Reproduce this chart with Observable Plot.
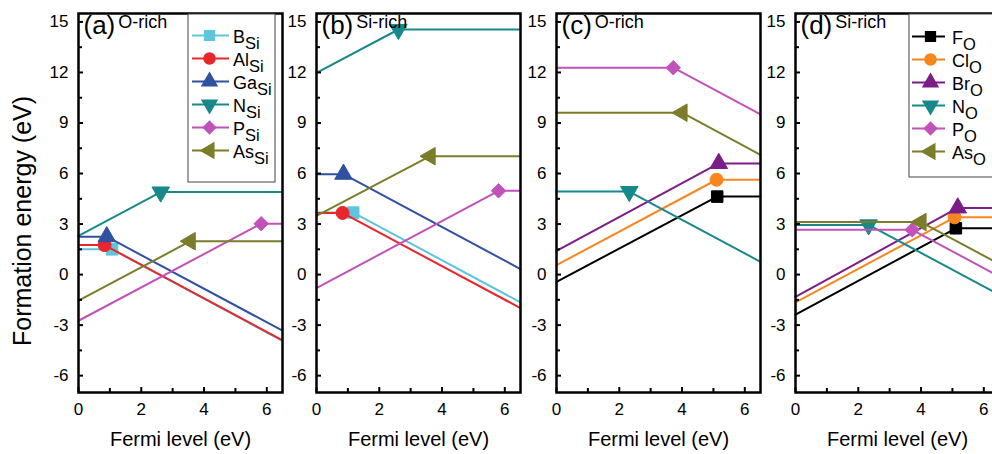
<!DOCTYPE html>
<html><head><meta charset="utf-8">
<script src="https://cdn.jsdelivr.net/npm/d3@7"></script>
<script src="https://cdn.jsdelivr.net/npm/@observablehq/plot@0.6"></script>
<style>
html,body{margin:0;padding:0;background:#fff;overflow:hidden;}
#chart{position:relative;width:992px;height:454px;overflow:hidden;font-family:"Liberation Sans",Arial,sans-serif;}
#chart > svg{position:absolute;}
</style></head><body><div id="chart"></div>
<script>
// ---------- data ----------
const fermiMax = 6.5;
const yDomain = [-7, 15.5];
const xMajorTicks = [0, 2, 4, 6];
const xMinorTicks = [1, 3, 5];
const yMajorTicks = [-6, -3, 0, 3, 6, 9, 12, 15];
const yMinorTicks = [-4.5, -1.5, 1.5, 4.5, 7.5, 10.5, 13.5];
const panelTitles = ["(a)^O-rich", "(b)^Si-rich", "(c)^O-rich", "(d)^Si-rich"];
const xTitle = "Fermi level (eV)";
const yTitle = "Formation energy (eV)";

const dopantsSi = ["B_Si", "Al_Si", "Ga_Si", "N_Si", "P_Si", "As_Si"];
const dopantsO = ["F_O", "Cl_O", "Br_O", "N_O", "P_O", "As_O"];
const colorsSi = ["#5ec6dc", "#e8262b", "#3050a0", "#17898a", "#c152b8", "#7b7d2b"];
const colorsO = ["#000000", "#f7861f", "#7a1d86", "#17898a", "#c152b8", "#7b7d2b"];
const symbolsSi = ["square", "circle", "triangle", "triangleDown", "diamond", "triangleLeft"];
const symbolsO = ["square", "circle", "triangle", "triangleDown", "diamond", "triangleLeft"];

// each series: value at E_F = 0, transition point (x, y), value at E_F = fermiMax
// (a) O-rich, Si-site dopants
const startA = [1.50, 1.75, 2.25, 2.30, -2.74, -1.55];
const kinkXA = [1.07, 0.83, 0.90, 2.62, 5.82, 3.56];
const kinkYA = [1.50, 1.75, 2.25, 4.90, 3.02, 1.98];
const endA   = [-3.93, -3.90, -3.33, 4.90, 3.02, 1.98];
// (b) Si-rich, Si-site dopants
const startB = [3.68, 3.66, 5.96, 11.98, -0.80, 3.49];
const kinkXB = [1.17, 0.83, 0.86, 2.61, 5.80, 3.62];
const kinkYB = [3.68, 3.66, 5.96, 14.55, 4.97, 7.03];
const endB   = [-1.65, -1.99, 0.33, 14.55, 4.97, 7.03];
// (c) O-rich, O-site dopants
const startC = [-0.43, 0.56, 1.41, 4.93, 12.28, 9.61];
const kinkXC = [5.12, 5.10, 5.17, 2.32, 3.72, 4.00];
const kinkYC = [4.63, 5.63, 6.60, 4.93, 12.28, 9.61];
const endC   = [4.63, 5.63, 6.60, 0.76, 9.51, 7.10];
// (d) Si-rich, O-site dopants
const startD = [-2.38, -1.65, -1.32, 2.95, 2.66, 3.12];
const kinkXD = [5.11, 5.07, 5.17, 2.33, 3.72, 4.00];
const kinkYD = [2.75, 3.40, 3.96, 2.95, 2.66, 3.12];
const endD   = [2.75, 3.40, 3.96, -1.20, -0.12, 0.62];

// ---------- symbols ----------
const sqrt3 = Math.sqrt(3);
const customSymbols = {
  triangleDown: {draw(ctx, size) {
    const y = -Math.sqrt(size / (sqrt3 * 3));
    ctx.moveTo(0, -y * 2); ctx.lineTo(-sqrt3 * y, y); ctx.lineTo(sqrt3 * y, y); ctx.closePath();
  }},
  triangleLeft: {draw(ctx, size) {
    const y = -Math.sqrt(size / (sqrt3 * 3));
    ctx.moveTo(y * 2, 0); ctx.lineTo(-y, -sqrt3 * y); ctx.lineTo(-y, sqrt3 * y); ctx.closePath();
  }},
  diamond: "diamond2"
};
const sym = s => customSymbols[s] || s;

const FONT = "'Liberation Sans', Arial, sans-serif";
const chart = document.getElementById("chart");

// ---------- layout ----------
const frameW = 204, mTop = 13, mBottom = 62, H = 454;
const panels = [
  {names: dopantsSi, colors: colorsSi, syms: symbolsSi, s: startA, kx: kinkXA, ky: kinkYA, e: endA, left: 0, mLeft: 78},
  {names: dopantsSi, colors: colorsSi, syms: symbolsSi, s: startB, kx: kinkXB, ky: kinkYB, e: endB, left: 276, mLeft: 40},
  {names: dopantsO, colors: colorsO, syms: symbolsO, s: startC, kx: kinkXC, ky: kinkYC, e: endC, left: 516, mLeft: 40},
  {names: dopantsO, colors: colorsO, syms: symbolsO, s: startD, kx: kinkXD, ky: kinkYD, e: endD, left: 755, mLeft: 40}
];

function richText(svg, subSize) {
  d3.select(svg).selectAll("text").each(function () {
    const t = this.textContent;
    const sel = d3.select(this);
    if (t.includes("^")) {
      const [base, sup] = t.split("^");
      sel.text(null);
      sel.append("tspan").text(base);
      sel.append("tspan").attr("font-size", 18).attr("dx", 3).attr("dy", -6.5).text(sup);
    } else if (t.includes("_")) {
      const [base, sub] = t.split("_");
      sel.text(null);
      sel.append("tspan").text(base);
      sel.append("tspan").attr("font-size", subSize).attr("dy", 6).text(sub);
    }
  });
}

panels.forEach((p, i) => {
  const marks = [];
  p.names.forEach((n, j) => {
    const pts = [
      {x: 0, y: p.s[j]},
      {x: p.kx[j], y: p.ky[j]},
      {x: fermiMax, y: p.e[j]}
    ];
    marks.push(Plot.line(pts, {x: "x", y: "y", stroke: p.colors[j], strokeWidth: 2}));
    marks.push(Plot.dot([pts[1]], {x: "x", y: "y", symbol: sym(p.syms[j]), r: 6.5, fill: p.colors[j], stroke: p.colors[j], strokeWidth: 1}));
  });
  marks.push(
    Plot.axisX({ticks: xMajorTicks, tickSize: 5, dy: -5, fill: "none", strokeWidth: 2, label: null}),
    Plot.axisX({ticks: xMinorTicks, tickSize: 4, dy: -4, fill: "none", strokeWidth: 2, label: null}),
    Plot.axisX({ticks: xMajorTicks, tickSize: 0, tickPadding: 10, tickFormat: d => String(d), fontSize: 17, label: null}),
    Plot.axisY({ticks: yMajorTicks, tickSize: 5, dx: 5, fill: "none", strokeWidth: 2, label: null}),
    Plot.axisY({ticks: yMinorTicks, tickSize: 4, dx: 4, fill: "none", strokeWidth: 2, label: null}),
    Plot.axisY({ticks: yMajorTicks, tickSize: 0, tickPadding: 10, tickFormat: d => String(d), fontSize: 17, label: null}),
    Plot.frame({stroke: "black", strokeWidth: 2.5}),
    Plot.text([xTitle], {frameAnchor: "bottom", text: d => d, dy: 39, lineAnchor: "top", fontSize: 20}),
    Plot.text([panelTitles[i]], {frameAnchor: "top-left", text: d => d, dx: 5, dy: 2.5, lineAnchor: "top", textAnchor: "start", fontSize: 26})
  );
  if (i === 0) {
    marks.push(Plot.text([yTitle], {frameAnchor: "left", text: d => d, dx: -56, dy: 18, rotate: -90, textAnchor: "middle", lineAnchor: "middle", fontSize: 25}));
  }
  const svg = Plot.plot({
    width: p.mLeft + frameW + 6,
    height: H,
    marginLeft: p.mLeft, marginRight: 6, marginTop: mTop, marginBottom: mBottom,
    x: {domain: [0, fermiMax]},
    y: {domain: yDomain},
    style: {fontFamily: FONT, color: "black", background: "transparent", overflow: "visible"},
    marks
  });
  richText(svg, 15);
  svg.style.left = p.left + "px";
  svg.style.top = "0px";
  chart.appendChild(svg);
});

// ---------- legends ----------
function legend(names, colors, syms, left, top, width, height, yRange, lineX, dotX, textX) {
  const marks = [Plot.frame({fill: "white", stroke: "#444", strokeWidth: 1, inset: 0.5})];
  names.forEach((n, j) => {
    marks.push(Plot.ruleY([n], {y: d => d, x1: lineX[0], x2: lineX[1], stroke: colors[j], strokeWidth: 2}));
    marks.push(Plot.dot([n], {y: d => d, x: dotX, symbol: sym(syms[j]), r: 5.5, fill: colors[j], stroke: colors[j]}));
  });
  marks.push(Plot.text(names, {y: d => d, x: textX, text: d => d, textAnchor: "start", dy: 2, fontSize: 18}));
  const svg = Plot.plot({
    width, height, margin: 0,
    x: {domain: [0, width], range: [0, width], axis: null},
    y: {type: "point", domain: names, range: yRange, axis: null},
    style: {fontFamily: FONT, color: "black", background: "transparent", overflow: "visible"},
    marks
  });
  richText(svg, 16.5);
  svg.style.left = left + "px";
  svg.style.top = top + "px";
  chart.appendChild(svg);
}
legend(dopantsSi, colorsSi, symbolsSi, 186.5, 13, 88, 169, [8, 150], [5, 42], 22, 45.5);
legend(dopantsO, colorsO, symbolsO, 908, 13, 89, 164, [10, 150], [4, 37], 22, 43.5);
</script></body></html>
